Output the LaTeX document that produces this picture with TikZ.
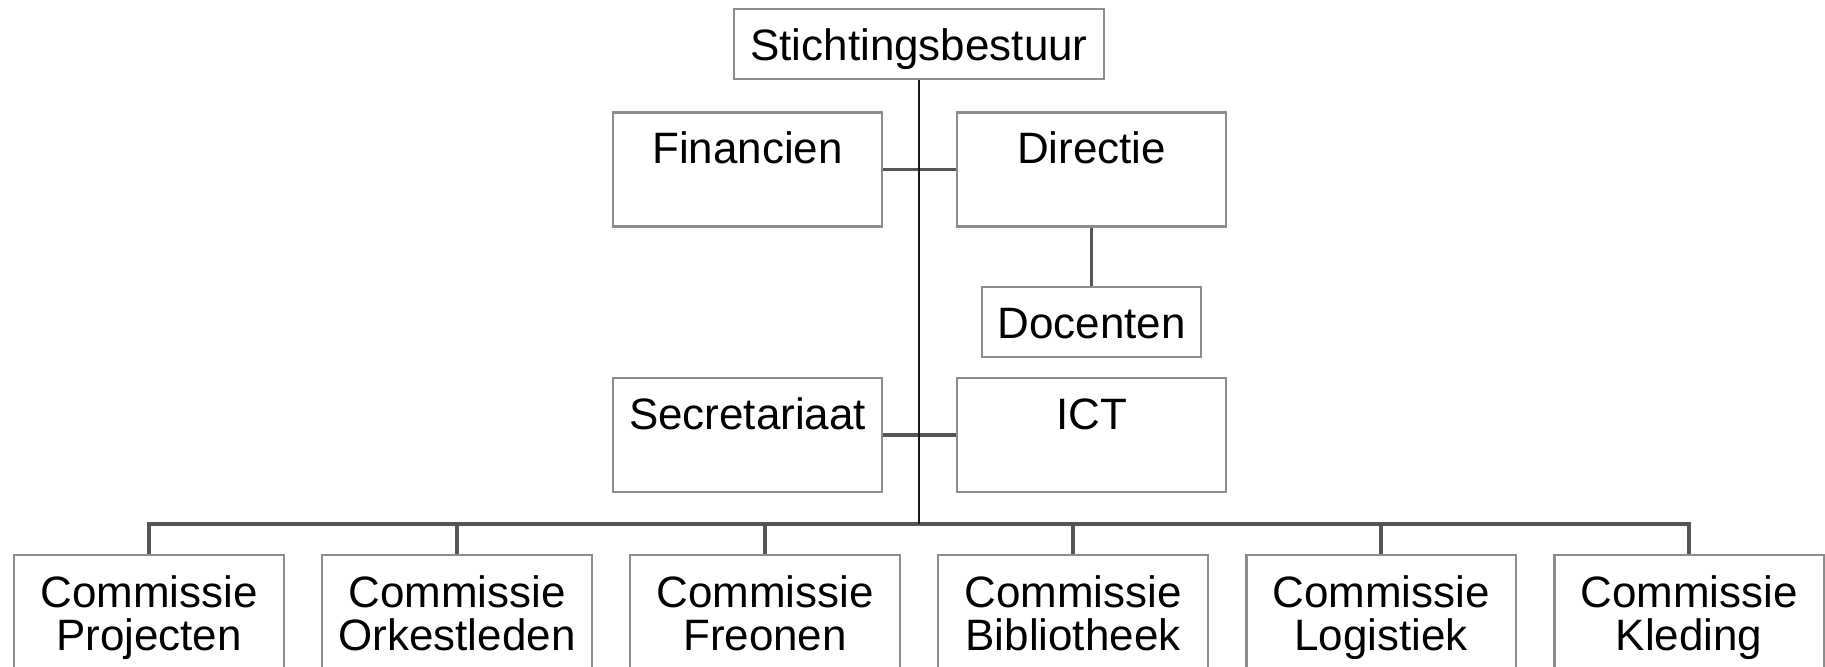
\documentclass[tikz,border=0pt]{standalone}
\usepackage{fontspec}
\setmainfont{Liberation Sans}
\definecolor{boxgray}{RGB}{140,140,140}
\definecolor{linegray}{RGB}{85,85,85}

\begin{document}
\begin{tikzpicture}[x=0.01cm, y=-0.01cm,
                    every node/.style={font=\fontsize{12.5}{12.3}\selectfont},
                    box/.style={rectangle,draw=boxgray,line width=0.6pt,inner sep=0pt},
                    main node/.style={box,text height=0.32cm,text depth=0cm,minimum height=0.70cm},
                    staff node/.style={box,minimum width=2.69cm,text height=0.515cm,text depth=0.625cm},
                    com node/.style={box,minimum width=2.69cm,minimum height=1.29cm,align=center},
                    trunk/.style={black!90,line width=0.7pt},
                    link/.style={linegray,line width=0.9pt}]

  \path[use as bounding box] (0,0) rectangle (1825,667);
  \clip (0,0) rectangle (1825,667);

  \node[main node, minimum width=3.70cm] (sb) at (919,44) {Stichtingsbestuur};
  \node[staff node] (fin) at (747.5,169.5) {Financien};
  \node[staff node] (dir) at (1091.5,169.5) {Directie};
  \node[main node, minimum width=2.19cm] (doc) at (1091.5,322) {Docenten};
  \node[staff node] (sec) at (747.5,435) {Secretariaat};
  \node[staff node] (ict) at (1091.5,435) {ICT};

  % commissies
  \foreach \name/\txt [count=\i from 0] in {proj/Projecten, orks/Orkestleden, freo/Freonen,
                                            bibl/Bibliotheek, logi/Logistiek, kled/Kleding}
    \node[com node, anchor=north] (\name) at (149+308*\i,554) {Commissie\\\txt\strut};

  \coordinate (bus) at (919,524);

  \path[link]
  (fin) edge (dir)
  (sec) edge (ict)
  (dir) edge (doc)
  ;
  \foreach \name in {proj,orks,freo,bibl,logi,kled}
    \draw[link] (bus) -| (\name.north);
  \draw[trunk] (sb) -- (bus);
\end{tikzpicture}
\end{document}
